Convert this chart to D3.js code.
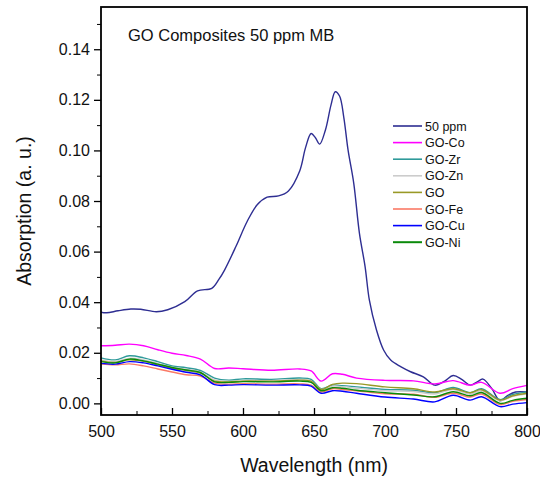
<!DOCTYPE html>
<html lang="en">
<head>
    <meta charset="UTF-8">
    <title>GO Composites 50 ppm MB</title>
    <script src="https://d3js.org/d3.v7.min.js"></script>
    <style>
        body { margin: 0; background: #fff; }
        text { font-family: "Liberation Sans", Arial, sans-serif; fill: #111; }
        .line { fill: none; stroke-width: 1.4px; }
        .axis path, .axis line { stroke: #000; }
    </style>
</head>
<body>
    <svg id="chart" width="540" height="478"></svg>
    <script>
        // wavelength grid shared by the composite spectra
        var wl = [500, 510, 520, 530, 540, 550, 560, 570, 580, 590, 600, 620, 640, 648, 655, 663, 670, 680, 700, 720, 735, 748, 760, 768, 781, 790, 800];

        // MB reference spectrum (finer grid because of the peaks)
        var wlMB = [500, 504, 512, 521, 528, 539, 547, 559, 568, 578, 583, 587, 595, 603, 610, 617, 625, 632, 640, 644, 648, 651, 654, 658, 662, 665, 668, 671, 674, 678, 682, 686, 689, 694, 699, 704, 711, 718, 727, 735, 742, 748, 754, 760, 765, 769, 775, 781, 786, 792, 800];
        var mb50 = [0.0360, 0.0358, 0.0366, 0.0373, 0.0372, 0.0362, 0.0370, 0.0402, 0.0445, 0.0455, 0.0490, 0.0527, 0.0620, 0.0720, 0.0785, 0.0815, 0.0820, 0.0840, 0.0920, 0.1010, 0.1067, 0.1050, 0.1025, 0.1080, 0.1180, 0.1232, 0.1215, 0.1130, 0.1001, 0.0870, 0.0672, 0.0540, 0.0408, 0.0290, 0.0211, 0.0171, 0.0145, 0.0125, 0.0105, 0.0072, 0.0088, 0.0110, 0.0095, 0.0072, 0.0085, 0.0096, 0.0060, 0.0010, 0.0030, 0.0045, 0.0045];

        var goCo = [0.0228, 0.0230, 0.0234, 0.0228, 0.0212, 0.0198, 0.0189, 0.0175, 0.0138, 0.0140, 0.0137, 0.0131, 0.0136, 0.0128, 0.0088, 0.0117, 0.0115, 0.0100, 0.0091, 0.0089, 0.0077, 0.0090, 0.0072, 0.0083, 0.0040, 0.0058, 0.0071];
        var goZr = [0.0180, 0.0172, 0.0188, 0.0180, 0.0165, 0.0148, 0.0141, 0.0130, 0.0100, 0.0092, 0.0097, 0.0095, 0.0100, 0.0095, 0.0058, 0.0072, 0.0070, 0.0065, 0.0055, 0.0052, 0.0042, 0.0063, 0.0042, 0.0058, 0.0015, 0.0035, 0.0045];
        var goZn = [0.0172, 0.0166, 0.0178, 0.0172, 0.0158, 0.0142, 0.0135, 0.0124, 0.0093, 0.0087, 0.0090, 0.0090, 0.0093, 0.0088, 0.0055, 0.0068, 0.0066, 0.0060, 0.0050, 0.0047, 0.0037, 0.0055, 0.0036, 0.0050, 0.0010, 0.0028, 0.0038];
        var goPlain = [0.0168, 0.0162, 0.0172, 0.0166, 0.0152, 0.0138, 0.0130, 0.0120, 0.0088, 0.0085, 0.0088, 0.0088, 0.0092, 0.0088, 0.0055, 0.0075, 0.0080, 0.0078, 0.0065, 0.0058, 0.0045, 0.0058, 0.0042, 0.0054, 0.0013, 0.0030, 0.0040];
        var goFe = [0.0155, 0.0152, 0.0156, 0.0148, 0.0136, 0.0124, 0.0113, 0.0108, 0.0080, 0.0076, 0.0078, 0.0076, 0.0077, 0.0072, 0.0045, 0.0058, 0.0055, 0.0050, 0.0038, 0.0036, 0.0024, 0.0040, 0.0025, 0.0037, -0.0005, 0.0008, 0.0015];
        var goCu = [0.0158, 0.0155, 0.0165, 0.0160, 0.0148, 0.0135, 0.0123, 0.0113, 0.0074, 0.0072, 0.0074, 0.0072, 0.0073, 0.0068, 0.0040, 0.0050, 0.0048, 0.0040, 0.0025, 0.0017, 0.0006, 0.0032, 0.0013, 0.0026, -0.0013, -0.0003, 0.0003];
        var goNi = [0.0165, 0.0160, 0.0175, 0.0168, 0.0155, 0.0142, 0.0132, 0.0122, 0.0085, 0.0083, 0.0086, 0.0085, 0.0088, 0.0083, 0.0050, 0.0062, 0.0060, 0.0052, 0.0042, 0.0033, 0.0026, 0.0046, 0.0030, 0.0043, 0.0000, 0.0012, 0.0020];

        var names = ["50 ppm", "GO-Co", "GO-Zr", "GO-Zn", "GO", "GO-Fe", "GO-Cu", "GO-Ni"];
        var colors = ["#2e2e92", "#ff00ff", "#2f9a9a", "#cccccc", "#999926", "#fa7a66", "#0000ff", "#0a8a0a"];

        var xTicks = [500, 550, 600, 650, 700, 750, 800];
        var yTicks = [0.00, 0.02, 0.04, 0.06, 0.08, 0.10, 0.12, 0.14];

        var series = [
            { name: names[0], x: wlMB, y: mb50 },
            { name: names[1], x: wl, y: goCo },
            { name: names[2], x: wl, y: goZr },
            { name: names[3], x: wl, y: goZn },
            { name: names[4], x: wl, y: goPlain },
            { name: names[5], x: wl, y: goFe },
            { name: names[6], x: wl, y: goCu },
            { name: names[7], x: wl, y: goNi }
        ];

        // plot box (window.top is reserved, so keep these in an object)
        var box = { x0: 101, x1: 527, y0: 7, y1: 415 };

        var x = d3.scaleLinear().domain([500, 800]).range([box.x0, box.x1]);
        var y = d3.scaleLinear().domain([-0.0046, 0.1567]).range([box.y1, box.y0]);

        var svg = d3.select("#chart");

        svg.append("clipPath").attr("id", "clip")
            .append("rect")
            .attr("x", box.x0).attr("y", box.y0)
            .attr("width", box.x1 - box.x0).attr("height", box.y1 - box.y0);

        var line = d3.line()
            .x(function(d) { return x(d[0]); })
            .y(function(d) { return y(d[1]); })
            .curve(d3.curveCatmullRom.alpha(0.5));

        var plot = svg.append("g").attr("clip-path", "url(#clip)");
        series.forEach(function(s, i) {
            var pts = s.x.map(function(v, j) { return [v, s.y[j]]; });
            plot.append("path")
                .datum(pts)
                .attr("class", "line")
                .attr("stroke", colors[i])
                .attr("stroke-width", i === 7 ? 1.7 : 1.4)
                .attr("d", line);
        });

        // frame
        svg.append("rect")
            .attr("x", box.x0).attr("y", box.y0)
            .attr("width", box.x1 - box.x0).attr("height", box.y1 - box.y0)
            .attr("fill", "none")
            .attr("stroke", "#000")
            .attr("stroke-width", 1.8);

        // x axis: ticks point inward
        var xMinor = d3.range(525, 800, 50);
        svg.append("g")
            .attr("class", "axis")
            .attr("transform", "translate(0," + box.y1 + ")")
            .call(d3.axisTop(x).tickValues(xMinor).tickSize(4).tickFormat(""))
            .call(function(g) { g.select(".domain").remove(); });
        var xAx = svg.append("g")
            .attr("class", "axis")
            .attr("transform", "translate(0," + box.y1 + ")")
            .call(d3.axisTop(x).tickValues(xTicks).tickSize(7).tickFormat(d3.format("d")));
        xAx.select(".domain").remove();
        xAx.selectAll("line").attr("stroke-width", 1.3);
        xAx.selectAll("text")
            .attr("y", 22)
            .attr("dy", 0)
            .style("font-size", "16px")
            .style("font-family", "Liberation Sans, Arial, sans-serif");

        // y axis: ticks point outward
        var yMinor = yTicks.map(function(v) { return v + 0.01; });
        svg.append("g")
            .attr("class", "axis")
            .attr("transform", "translate(" + box.x0 + ",0)")
            .call(d3.axisLeft(y).tickValues(yMinor).tickSize(4).tickFormat(""))
            .call(function(g) { g.select(".domain").remove(); });
        var yAx = svg.append("g")
            .attr("class", "axis")
            .attr("transform", "translate(" + box.x0 + ",0)")
            .call(d3.axisLeft(y).tickValues(yTicks).tickSize(7).tickPadding(4).tickFormat(d3.format(".2f")));
        yAx.select(".domain").remove();
        yAx.selectAll("line").attr("stroke-width", 1.3);
        yAx.selectAll("text")
            .style("font-size", "16px")
            .style("font-family", "Liberation Sans, Arial, sans-serif");

        // axis titles
        svg.append("text")
            .attr("x", (box.x0 + box.x1) / 2)
            .attr("y", 472)
            .attr("text-anchor", "middle")
            .style("font-size", "19.5px")
            .text("Wavelength (nm)");

        svg.append("text")
            .attr("transform", "translate(31," + (box.y0 + box.y1) / 2 + ") rotate(-90)")
            .attr("text-anchor", "middle")
            .style("font-size", "19.5px")
            .text("Absorption (a. u.)");

        // title
        svg.append("text")
            .attr("x", 128)
            .attr("y", 41)
            .style("font-size", "16.5px")
            .text("GO Composites 50 ppm MB");

        // legend
        var legend = svg.append("g").attr("transform", "translate(393,126)");
        names.forEach(function(n, i) {
            var row = legend.append("g").attr("transform", "translate(0," + (i * 16.6) + ")");
            row.append("line")
                .attr("x1", 0).attr("x2", 29)
                .attr("y1", 0).attr("y2", 0)
                .attr("stroke", colors[i])
                .attr("stroke-width", i === 7 ? 2 : 1.6);
            row.append("text")
                .attr("x", 32)
                .attr("y", 4.5)
                .style("font-size", "12.5px")
                .text(n);
        });
    </script>
</body>
</html>
